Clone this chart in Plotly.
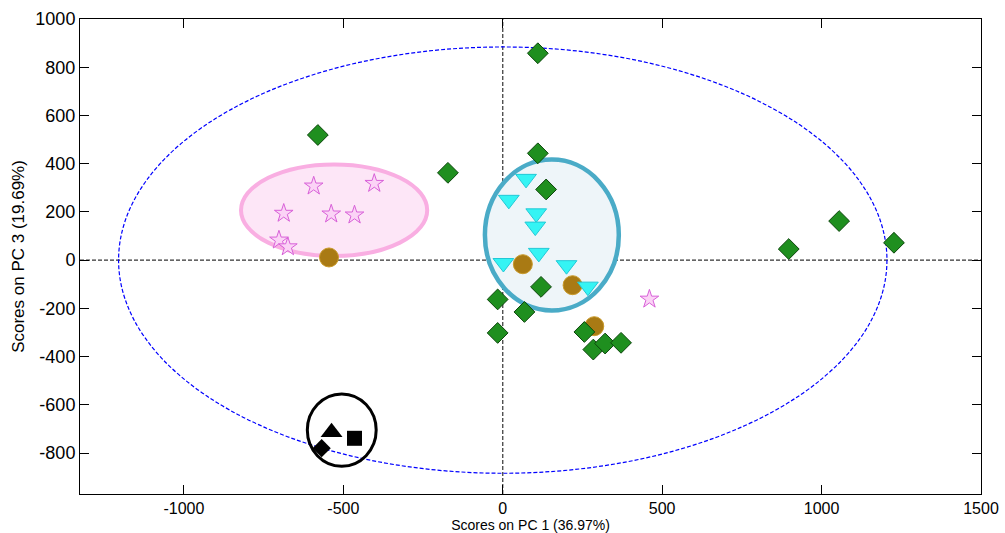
import plotly.graph_objects as go

# ---- data ----
diamond_x = [110, -580, -172, 110, 136, 897, 1055, 1227, -16, -16, 68, 120, 256, 284, 321, 371]
diamond_y = [858, 519, 362, 443, 293, 46, 162, 72, -163, -302, -215, -111, -298, -371, -346, -343]

tri_x = [73, 19, 105, 102, 113, 2, 200, 267]
tri_y = [337, 250, 194, 139, 30, -12, -21, -110]

circ_x = [-545, 63, 219, 287]
circ_y = [11, -17, -104, -274]

star_x = [-593, -403, -687, -538, -465, -702, -674, 460]
star_y = [307, 318, 194, 191, 187, 83, 55, -162]

blk_diamond = ([-568], [-780])
blk_triangle = ([-537], [-714])
blk_square = ([-465], [-739])

# ellipses: (center x, center y, semi x, semi y)
conf_ellipse = [0, 0, 1205, 884]
pink_ellipse = [-529, 207, 292, 190]
blue_ellipse = [154, 104, 210, 313]
black_circle = [-505, -705, 108, 150]

x_ticks = [-1000, -500, 0, 500, 1000, 1500]
x_ticktext = ["-1000", "-500", "0", "500", "1000", "1500"]
y_ticks = [-800, -600, -400, -200, 0, 200, 400, 600, 800, 1000]
y_ticktext = ["-800", "-600", "-400", "-200", "0", "200", "400", "600", "800", "1000"]

FONT = "Liberation Sans, Arial, sans-serif"


def ell(e, **kw):
    cx, cy, rx, ry = e
    return dict(type="circle", xref="x", yref="y", x0=cx - rx, x1=cx + rx,
                y0=cy - ry, y1=cy + ry, layer="below", **kw)


fig = go.Figure()

fig.add_trace(go.Scatter(x=star_x, y=star_y, mode="markers",
                         marker=dict(symbol="star", size=14, color="#fbd3f6",
                                     line=dict(color="#d860d8", width=1))))
fig.add_trace(go.Scatter(x=circ_x, y=circ_y, mode="markers",
                         marker=dict(symbol="circle", size=19, color="#a97a14",
                                     line=dict(color="#c99a2a", width=1))))
fig.add_trace(go.Scatter(x=tri_x, y=tri_y, mode="markers",
                         marker=dict(symbol="triangle-down", size=18, color="#35f4f4",
                                     line=dict(color="#22c8d6", width=1))))
fig.add_trace(go.Scatter(x=diamond_x, y=diamond_y, mode="markers",
                         marker=dict(symbol="diamond", size=16, color="#1f8f1f",
                                     line=dict(color="#0c460c", width=1))))
fig.add_trace(go.Scatter(x=blk_diamond[0], y=blk_diamond[1], mode="markers",
                         marker=dict(symbol="diamond", size=14, color="black")))
fig.add_trace(go.Scatter(x=blk_triangle[0], y=blk_triangle[1], mode="markers",
                         marker=dict(symbol="triangle-up", size=19, color="black")))
fig.add_trace(go.Scatter(x=blk_square[0], y=blk_square[1], mode="markers",
                         marker=dict(symbol="square", size=15, color="black")))

shapes = [
    ell(conf_ellipse, line=dict(color="#0000ff", width=1.2, dash="4px,2px")),
    ell(pink_ellipse, line=dict(color="#f9aee2", width=4), fillcolor="#fde6f7"),
    ell(blue_ellipse, line=dict(color="#4aabc7", width=4.5), fillcolor="#eef5f9"),
    ell(black_circle, line=dict(color="black", width=3)),
    dict(type="line", xref="x domain", yref="y", x0=0, x1=1, y0=0, y1=0, layer="below",
         line=dict(color="#333333", width=1.2, dash="4px,2px")),
    dict(type="line", xref="x", yref="y domain", x0=0, x1=0, y0=0, y1=1, layer="below",
         line=dict(color="#333333", width=1.2, dash="4px,2px")),
]

fig.update_layout(
    width=1005, height=533,
    margin=dict(l=80, r=24, t=19, b=39),
    paper_bgcolor="white", plot_bgcolor="white",
    showlegend=False,
    shapes=shapes,
    font=dict(family=FONT, color="black"),
    xaxis=dict(range=[-1326, 1500], tickvals=x_ticks, ticktext=x_ticktext,
               showgrid=False, zeroline=False, showline=True, linecolor="black",
               linewidth=1, mirror="ticks", ticks="inside", ticklen=9, tickcolor="black",
               tickfont=dict(size=16), ticklabelstandoff=0, automargin=False,
               title=dict(text="Scores on PC 1 (36.97%)", font=dict(size=14), standoff=0)),
    yaxis=dict(range=[-970, 1000], tickvals=y_ticks, ticktext=y_ticktext,
               showgrid=False, zeroline=False, showline=True, linecolor="black",
               linewidth=1, mirror="ticks", ticks="inside", ticklen=9, tickcolor="black",
               tickfont=dict(size=18), automargin=False,
               title=dict(text="Scores on PC 3 (19.69%)", font=dict(size=17), standoff=6)),
)

fig.write_html("out.html")
